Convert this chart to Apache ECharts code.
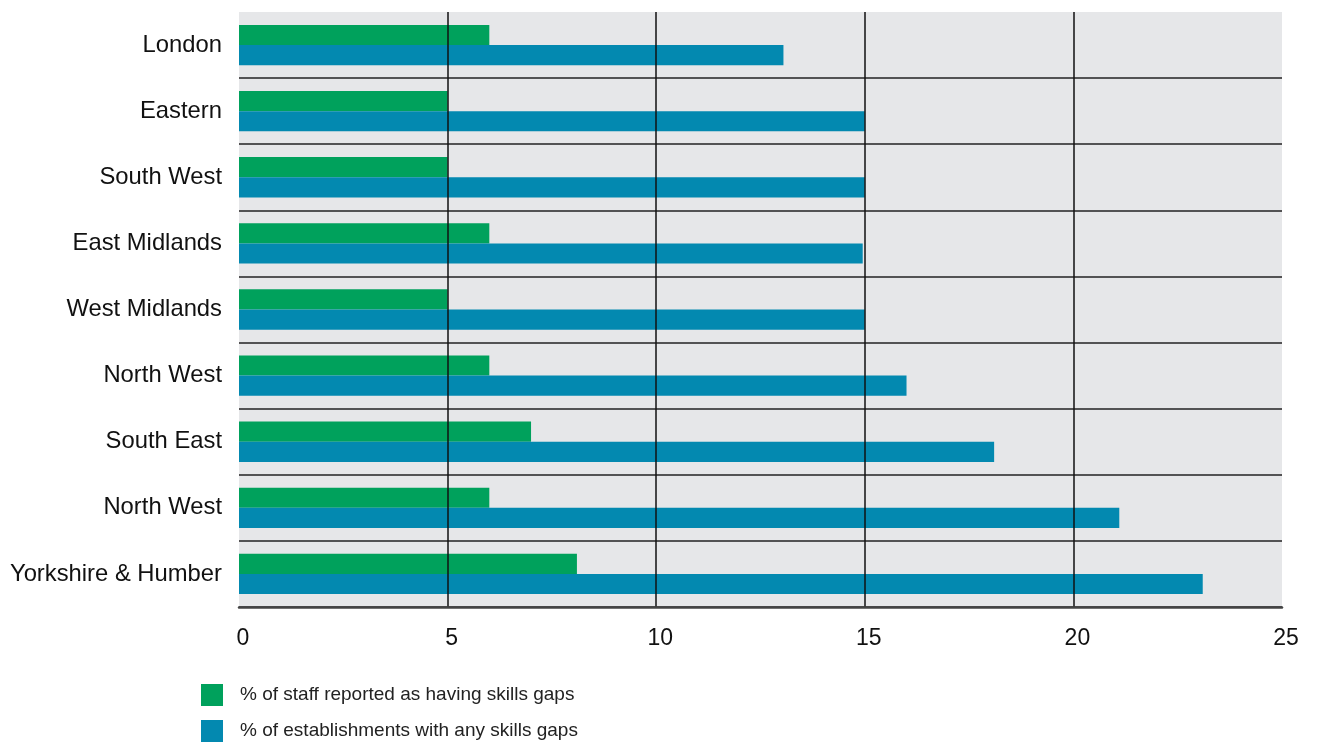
<!DOCTYPE html>
<html>
<head>
<meta charset="utf-8">
<script src="https://cdn.jsdelivr.net/npm/echarts@6/dist/echarts.min.js"></script>
<style>html,body{margin:0;padding:0;background:#fff}#c{width:1320px;height:745px}</style>
</head>
<body>
<div id="c"></div>
<script>
const categories = ['London','Eastern','South West','East Midlands','West Midlands','North West','South East','North West','Yorkshire & Humber'];
const staffGaps = [6,5,5,6,5,6,7,6,8.1];
const estabGaps = [13.05,15,15,14.95,15,16,18.1,21.1,23.1];
const seriesNames = ['% of staff reported as having skills gaps','% of establishments with any skills gaps'];
const xTicks = {min:0,max:25,interval:5};

const font = '"Liberation Sans", Arial, Helvetica, sans-serif';
const chart = echarts.init(document.getElementById('c'));
chart.setOption({
  animation:false,
  backgroundColor:'#ffffff',
  grid:{left:239,right:38,top:12,bottom:138,show:true,backgroundColor:'#e6e7e9',borderWidth:0},
  legend:{
    orient:'vertical',left:201,top:684,padding:0,itemWidth:22,itemHeight:22,itemGap:14,
    icon:'rect',height:70,
    textStyle:{fontFamily:font,fontSize:19,color:'#222',padding:[6,0,0,12]},
    data:seriesNames
  },
  xAxis:{
    type:'value',min:xTicks.min,max:xTicks.max,interval:xTicks.interval,z:10,
    axisLine:{show:true,lineStyle:{color:'#444',width:2.5}},
    axisTick:{show:false},
    axisLabel:{fontFamily:font,fontSize:23,color:'#111',margin:20,padding:[0,0,0,8]},
    splitLine:{show:true,showMinLine:false,showMaxLine:false,lineStyle:{color:'#111',width:1.5}}
  },
  yAxis:{
    type:'category',inverse:true,data:categories,z:10,
    axisLine:{show:false},axisTick:{show:false},
    axisLabel:{fontFamily:font,fontSize:23.8,color:'#111',margin:17},
    splitLine:{show:true,interval:function(i){return i!==0;},lineStyle:{color:'#222',width:1.5}}
  },
  series:[
    {name:seriesNames[0],type:'bar',data:staffGaps,itemStyle:{color:'#00a15c'},barGap:'0%',barCategoryGap:'39%'},
    {name:seriesNames[1],type:'bar',data:estabGaps,itemStyle:{color:'#0389b0'},barGap:'0%',barCategoryGap:'39%'}
  ]
});
</script>
</body>
</html>
